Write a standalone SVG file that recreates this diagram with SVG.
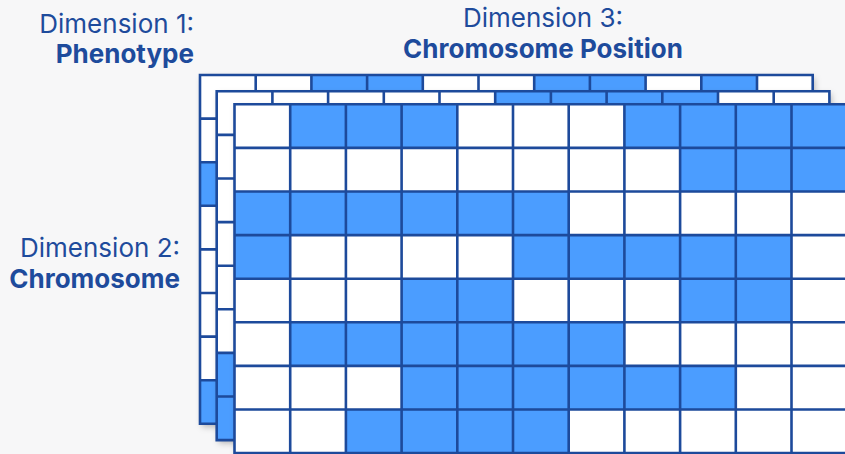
<svg xmlns="http://www.w3.org/2000/svg" xmlns:xlink="http://www.w3.org/1999/xlink" width="845" height="454" viewBox="0 0 845 454">
<style>
.bg{fill:#f7f7f8}
.sheet{fill:#ffffff}
.on{fill:#4b9dff}
.grid{fill:none;stroke:#1d4a9b;stroke-width:2.6}
.lbl{font-family:Inter,"Liberation Sans",sans-serif;font-size:26px;fill:#1e4b9c}
.b{font-weight:700}
</style>
<defs>
<filter id="shadow" x="-5%" y="-5%" width="112%" height="115%">
<feDropShadow dx="2" dy="3" stdDeviation="3" flood-color="#000" flood-opacity="0.28"/>
</filter>
<path id="gridlines" d="M0 0H612.7V348.8H0Z M55.7 0V348.8 M111.4 0V348.8 M167.1 0V348.8 M222.8 0V348.8 M278.5 0V348.8 M334.2 0V348.8 M389.9 0V348.8 M445.6 0V348.8 M501.3 0V348.8 M557 0V348.8 M0 43.6H612.7 M0 87.2H612.7 M0 130.8H612.7 M0 174.4H612.7 M0 218H612.7 M0 261.6H612.7 M0 305.2H612.7"/>
</defs>
<rect class="bg" x="0" y="0" width="845" height="454"/>

<g id="layer-back" transform="translate(200,75)">
<rect class="sheet" x="0" y="0" width="612.7" height="348.8" filter="url(#shadow)"/>
<rect class="on" x="111.4" y="0" width="111.4" height="43.6"/>
<rect class="on" x="334.2" y="0" width="111.4" height="43.6"/>
<rect class="on" x="501.3" y="0" width="55.7" height="43.6"/>
<rect class="on" x="0" y="87.2" width="55.7" height="43.6"/>
<rect class="on" x="0" y="305.2" width="55.7" height="43.6"/>
<use xlink:href="#gridlines" class="grid"/>
</g>

<g id="layer-middle" transform="translate(216.7,91.3)">
<rect class="sheet" x="0" y="0" width="612.7" height="348.8" filter="url(#shadow)"/>
<rect class="on" x="278.5" y="0" width="222.8" height="43.6"/>
<rect class="on" x="0" y="261.6" width="55.7" height="87.2"/>
<use xlink:href="#gridlines" class="grid"/>
</g>

<g id="layer-front" transform="translate(234.5,104.3)">
<rect class="sheet" x="0" y="0" width="612.7" height="348.8" filter="url(#shadow)"/>
<rect class="on" x="55.7" y="0" width="167.1" height="43.6"/>
<rect class="on" x="389.9" y="0" width="222.8" height="43.6"/>
<rect class="on" x="445.6" y="43.6" width="167.1" height="43.6"/>
<rect class="on" x="0" y="87.2" width="334.2" height="43.6"/>
<rect class="on" x="0" y="130.8" width="55.7" height="43.6"/>
<rect class="on" x="278.5" y="130.8" width="278.5" height="43.6"/>
<rect class="on" x="167.1" y="174.4" width="111.4" height="43.6"/>
<rect class="on" x="445.6" y="174.4" width="111.4" height="43.6"/>
<rect class="on" x="55.7" y="218" width="334.2" height="43.6"/>
<rect class="on" x="167.1" y="261.6" width="334.2" height="43.6"/>
<rect class="on" x="111.4" y="305.2" width="222.8" height="43.6"/>
<use xlink:href="#gridlines" class="grid"/>
</g>

<g id="label-dim1">
<text class="lbl" x="194" y="33" text-anchor="end">Dimension 1:</text>
<text class="lbl b" x="194" y="63" text-anchor="end">Phenotype</text>
</g>
<g id="label-dim3">
<text class="lbl" x="543" y="27" text-anchor="middle">Dimension 3:</text>
<text class="lbl b" x="543" y="58" text-anchor="middle">Chromosome Position</text>
</g>
<g id="label-dim2">
<text class="lbl" x="180" y="257" text-anchor="end">Dimension 2:</text>
<text class="lbl b" x="180" y="288" text-anchor="end">Chromosome</text>
</g>
</svg>
